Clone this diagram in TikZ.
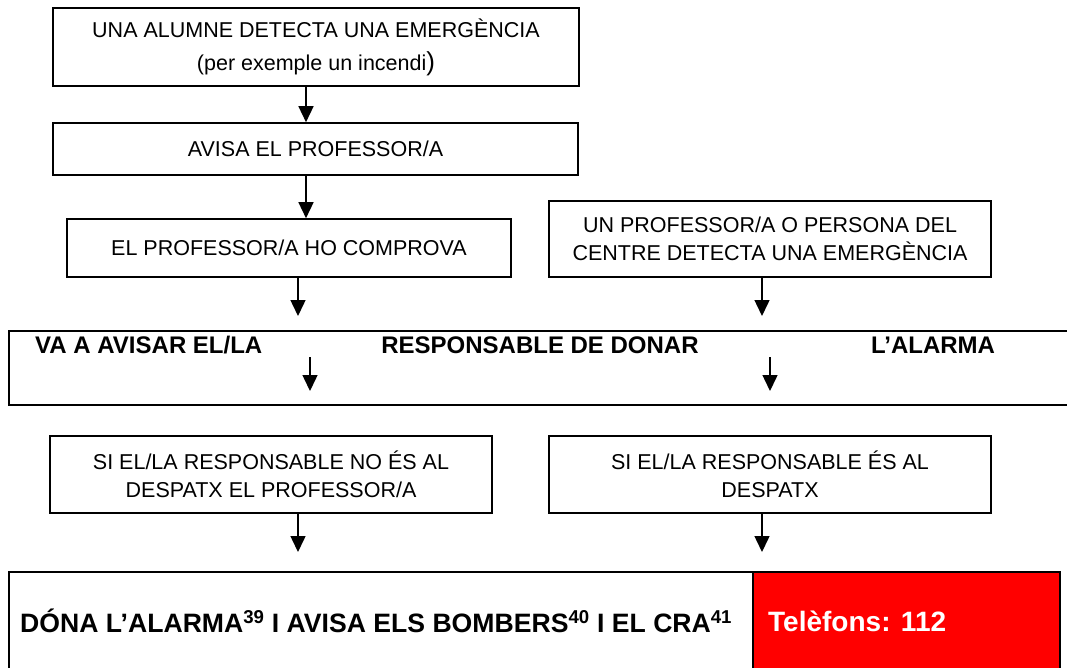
\documentclass[tikz,border=0pt]{standalone}
\usepackage{fontspec}
\setmainfont{Liberation Sans}
\usetikzlibrary{arrows.meta,positioning}

\tikzset{
  caixa/.style={draw=black, line width=1.6pt, align=center, inner sep=0pt,
    font=\fontsize{21.5}{28}\selectfont},
  franja/.style={draw=black, line width=2.6pt, inner sep=0pt},
  negreta/.style={inner sep=0pt, font=\fontsize{24}{28}\selectfont\bfseries},
  fletxa/.style={line width=1.5pt, -{Triangle[length=16pt,width=15pt]}},
}

\begin{document}
\begin{tikzpicture}[x=1pt,y=-1pt]
	\useasboundingbox (0,0) rectangle (1067,668);
	% primera columna
	\node[caixa, minimum width=526pt, minimum height=78pt] (alumne) at (316,47)
		{UNA ALUMNE DETECTA UNA EMERGÈNCIA\\[5pt](per exemple un incendi{\fontsize{26}{26}\selectfont)}};
	\node[caixa, minimum width=525pt, minimum height=52pt] (avisa) at (315.5,149) {AVISA EL PROFESSOR/A};
	\node[caixa, minimum width=444pt, minimum height=58pt] (comprova) at (289,248) {EL PROFESSOR/A HO COMPROVA};
	% segona columna
	\node[caixa, minimum width=442pt, minimum height=76pt] (centre) at (770,239)
		{UN PROFESSOR/A O PERSONA DEL\\CENTRE DETECTA UNA EMERGÈNCIA};
	% franja del mig
	\node[franja, minimum width=1066pt, minimum height=74pt] (franja) at (542,368) {};
	\node[negreta, anchor=west] (va) at (35,345) {VA A AVISAR EL/LA};
	\node[negreta] (resp) at (540,345) {RESPONSABLE DE DONAR};
	\node[negreta] (alarma) at (933,345) {L’ALARMA};
	% casos
	\node[caixa, minimum width=442pt, minimum height=77pt] (noes) at (271,474.5)
		{SI EL/LA RESPONSABLE NO ÉS AL\\DESPATX EL PROFESSOR/A};
	\node[caixa, minimum width=442pt, minimum height=77pt] (es) at (770,474.5)
		{SI EL/LA RESPONSABLE ÉS AL\\DESPATX};
	% caixa final
	\node[franja, minimum width=744pt, minimum height=118pt] (dona) at (381,631) {};
	\node[franja, fill=red, minimum width=307pt, minimum height=118pt] (telf) at (906.5,631) {};
	\node[negreta, anchor=west, font=\fontsize{26.6}{30}\selectfont\bfseries] (donatxt) at (20,621)
		{DÓNA L’ALARMA\textsuperscript{39} I AVISA ELS BOMBERS\textsuperscript{40} I EL CRA\textsuperscript{41}};
	\node[negreta, anchor=west, text=white, font=\fontsize{28}{30}\selectfont\bfseries] (telftxt) at (768,621) {Telèfons: 112};

	\coordinate (f1) at (298,316);
	\coordinate (f2) at (762,316);
	\coordinate (b1) at (310,357);
	\coordinate (b1e) at (310,391);
	\coordinate (b2) at (770,357);
	\coordinate (b2e) at (770,391);
	\coordinate (f3) at (298,552);
	\coordinate (f4) at (762,552);

	\draw[fletxa] ([xshift=-10pt]alumne.south) -- ([xshift=-10pt]alumne.south |- avisa.north);
	\draw[fletxa] ([xshift=-9.5pt]avisa.south) -- ([xshift=-9.5pt]avisa.south |- comprova.north);
	\draw[fletxa] (comprova.south -| f1) -- (f1);
	\draw[fletxa] (centre.south -| f2) -- (f2);
	\draw[fletxa] (b1) -- (b1e);
	\draw[fletxa] (b2) -- (b2e);
	\draw[fletxa] (noes.south -| f3) -- (f3);
	\draw[fletxa] (es.south -| f4) -- (f4);
\end{tikzpicture}
\end{document}
